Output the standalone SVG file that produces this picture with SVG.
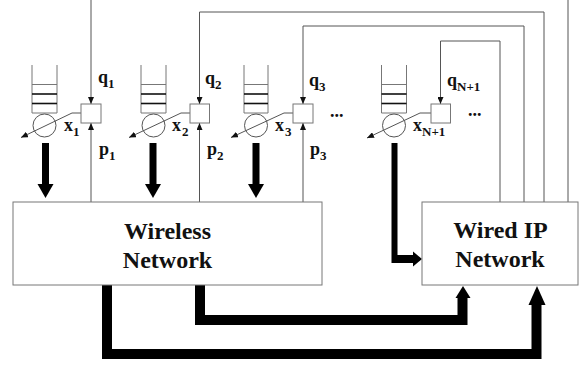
<svg xmlns="http://www.w3.org/2000/svg" width="587" height="368" viewBox="0 0 587 368">
<style>
.thin{fill:none;stroke:#555;stroke-width:1}
.box{fill:#fff;stroke:#777;stroke-width:1}
.qg{stroke:#777;stroke-width:1}
.qb{stroke:#111;stroke-width:1.6}
.thick{fill:none;stroke:#000;stroke-linejoin:miter;stroke-linecap:butt}
.lbl{font-family:"Liberation Serif","Times New Roman",serif;font-weight:bold;font-size:18px;fill:#111}
.sub{font-family:"Liberation Serif","Times New Roman",serif;font-weight:bold;font-size:13px;fill:#111}
.big{font-family:"Liberation Serif","Times New Roman",serif;font-weight:bold;font-size:24px;fill:#111;text-anchor:middle}
</style>
<defs>
<marker id="ah" viewBox="0 0 7 6" refX="7" refY="3" markerWidth="7" markerHeight="6" orient="auto" markerUnits="userSpaceOnUse">
<path d="M0,0 L7,3 L0,6 z" fill="#111"/>
</marker>
</defs>
<rect width="587" height="368" fill="#fff"/>

<g id="connectors">
<!-- q feedback lines -->
<path class="thin" d="M91,0 V104" marker-end="url(#ah)"/>
<path class="thin" d="M544,202 V12 H199.5 V104" marker-end="url(#ah)"/>
<path class="thin" d="M524,202 V26 H303 V104" marker-end="url(#ah)"/>
<path class="thin" d="M500,202 V41 H440.5 V104" marker-end="url(#ah)"/>
<path class="thin" d="M568,202 V0"/>
<!-- p lines -->
<path class="thin" d="M91,202 V123" marker-end="url(#ah)"/>
<path class="thin" d="M199.5,202 V123" marker-end="url(#ah)"/>
<path class="thin" d="M303,202 V123" marker-end="url(#ah)"/>
<!-- rate control diagonals -->
<path class="thin" d="M81,113 H72 L21,137.5" marker-end="url(#ah)"/>
<path class="thin" d="M190,113 H181 L129,137.5" marker-end="url(#ah)"/>
<path class="thin" d="M293,113 H284 L231,137.5" marker-end="url(#ah)"/>
<path class="thin" d="M431,113 H420 L367,138" marker-end="url(#ah)"/>
<!-- thick down arrows to wireless -->
<rect x="42" y="143" width="7" height="42" fill="#000"/>
<polygon points="37.5,184 53.5,184 45.5,198" fill="#000"/>
<rect x="149.5" y="143" width="7" height="42" fill="#000"/>
<polygon points="145,184 161,184 153,198" fill="#000"/>
<rect x="252.5" y="143" width="7" height="42" fill="#000"/>
<polygon points="248,184 264,184 256,198" fill="#000"/>
<!-- N+1 to wired -->
<polygon points="391.5,143 397.5,143 397.5,255 413,255 413,263 391.5,263" fill="#000"/>
<polygon points="413,251.5 422,259 413,266.5" fill="#000"/>
<!-- wireless to wired -->
<path class="thick" stroke-width="10" d="M200,285 V320 H462.5 V297"/>
<polygon points="455.5,298 463,286 470.5,298" fill="#000"/>
<path class="thick" stroke-width="10" d="M107,285 V354 H536.5 V304"/>
<polygon points="528.5,305 537,286 545.5,305" fill="#000"/>
</g>

<g id="queue1">
<line class="qg" x1="32" y1="65" x2="32" y2="113"/>
<line class="qg" x1="57" y1="65" x2="57" y2="113"/>
<line class="qg" x1="32" y1="84.5" x2="57" y2="84.5"/>
<line class="qb" x1="32" y1="94" x2="57" y2="94"/>
<line class="qb" x1="32" y1="103.5" x2="57" y2="103.5"/>
<line class="qg" x1="32" y1="113" x2="57" y2="113"/>
<circle cx="44.5" cy="125.5" r="11.5" class="thin"/>
<rect class="box" x="81" y="104" width="20" height="19"/>
<text class="lbl" x="98" y="83">q</text><text class="sub" x="108" y="88">1</text>
<text class="lbl" x="64" y="131">x</text><text class="sub" x="73" y="136">1</text>
<text class="lbl" x="99" y="155">p</text><text class="sub" x="109" y="160">1</text>
</g>

<g id="queue2">
<line class="qg" x1="141" y1="65" x2="141" y2="113"/>
<line class="qg" x1="166" y1="65" x2="166" y2="113"/>
<line class="qg" x1="141" y1="84.5" x2="166" y2="84.5"/>
<line class="qb" x1="141" y1="94" x2="166" y2="94"/>
<line class="qb" x1="141" y1="103.5" x2="166" y2="103.5"/>
<line class="qg" x1="141" y1="113" x2="166" y2="113"/>
<circle cx="153.5" cy="125.5" r="11.5" class="thin"/>
<rect class="box" x="190" y="104" width="19.5" height="19"/>
<text class="lbl" x="205" y="84">q</text><text class="sub" x="215" y="89">2</text>
<text class="lbl" x="172" y="131">x</text><text class="sub" x="182" y="136">2</text>
<text class="lbl" x="207" y="155">p</text><text class="sub" x="217" y="160">2</text>
</g>

<g id="queue3">
<line class="qg" x1="244" y1="65" x2="244" y2="113"/>
<line class="qg" x1="268" y1="65" x2="268" y2="113"/>
<line class="qg" x1="244" y1="84.5" x2="268" y2="84.5"/>
<line class="qb" x1="244" y1="94" x2="268" y2="94"/>
<line class="qb" x1="244" y1="103.5" x2="268" y2="103.5"/>
<line class="qg" x1="244" y1="113" x2="268" y2="113"/>
<circle cx="256" cy="125.5" r="11.5" class="thin"/>
<rect class="box" x="293" y="104" width="20" height="19"/>
<text class="lbl" x="309" y="86">q</text><text class="sub" x="319" y="91">3</text>
<text class="lbl" x="275" y="131">x</text><text class="sub" x="285" y="136">3</text>
<text class="lbl" x="310" y="155">p</text><text class="sub" x="320" y="160">3</text>
<text class="lbl" x="330" y="117">...</text>
</g>

<g id="queueN1">
<line class="qg" x1="381.5" y1="65" x2="381.5" y2="113"/>
<line class="qg" x1="406.5" y1="65" x2="406.5" y2="113"/>
<line class="qg" x1="381.5" y1="84.5" x2="406.5" y2="84.5"/>
<line class="qb" x1="381.5" y1="94" x2="406.5" y2="94"/>
<line class="qb" x1="381.5" y1="103.5" x2="406.5" y2="103.5"/>
<line class="qg" x1="381.5" y1="113" x2="406.5" y2="113"/>
<circle cx="394" cy="125.5" r="11.5" class="thin"/>
<rect class="box" x="431" y="104" width="19.5" height="19"/>
<text class="lbl" x="447" y="86">q</text><text class="sub" x="457" y="91">N+1</text>
<text class="lbl" x="413" y="131">x</text><text class="sub" x="422" y="136">N+1</text>
<text class="lbl" x="468" y="116">...</text>
</g>

<g id="wireless">
<rect class="box" x="13" y="202" width="309" height="83"/>
<text class="big" x="167.5" y="239">Wireless</text>
<text class="big" x="167.5" y="268">Network</text>
</g>

<g id="wired">
<rect class="box" x="422" y="202" width="156" height="83"/>
<text class="big" x="500.5" y="238">Wired IP</text>
<text class="big" x="500" y="267">Network</text>
</g>
</svg>
